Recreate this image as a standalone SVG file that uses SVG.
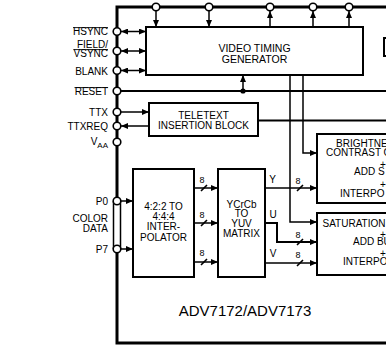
<svg xmlns="http://www.w3.org/2000/svg" width="386" height="351" viewBox="0 0 386 351">
<style>
text{font-family:"Liberation Sans",Arial,Helvetica,sans-serif;font-size:10px;fill:#000}
.box{fill:#fff;stroke:#000;stroke-width:2}
.chip{fill:none;stroke:#000;stroke-width:3}
.ln{fill:none;stroke:#000;stroke-width:1.5}
.bus{fill:none;stroke:#000;stroke-width:2}
.pin{fill:#fff;stroke:#000;stroke-width:1.6}
.sl{stroke:#000;stroke-width:1.6}
.m{text-anchor:middle}
.e{text-anchor:end}
.s8{font-size:9px}
</style>
<defs>
<marker id="ah" markerUnits="userSpaceOnUse" markerWidth="7" markerHeight="6" refX="7" refY="3" orient="auto-start-reverse">
<path d="M0,0 L7,3 L0,6 z" fill="#000"/>
</marker>
</defs>
<rect width="386" height="351" fill="#fff"/>
<g id="chip">
<path class="chip" d="M386,7 H117 V201 M117,249 V343 H386"/>
<path class="ln" d="M113.5,201 V249 M120.5,201 V249"/>
<text x="245" y="316" class="m" style="font-size:15px">ADV7172/ADV7173</text>
</g>
<g id="connectors">
<line class="ln" x1="156" y1="11" x2="156" y2="27" marker-end="url(#ah)"/>
<line class="ln" x1="209" y1="11" x2="209" y2="27" marker-end="url(#ah)"/>
<line class="ln" x1="270" y1="27" x2="270" y2="11" marker-end="url(#ah)"/>
<line class="ln" x1="313" y1="27" x2="313" y2="11" marker-end="url(#ah)"/>
<line class="ln" x1="349" y1="27" x2="349" y2="11" marker-end="url(#ah)"/>
<line class="ln" x1="121" y1="31.5" x2="146" y2="31.5" marker-start="url(#ah)" marker-end="url(#ah)"/>
<line class="ln" x1="121" y1="51" x2="146" y2="51" marker-start="url(#ah)" marker-end="url(#ah)"/>
<line class="ln" x1="121" y1="70.5" x2="146" y2="70.5" marker-start="url(#ah)" marker-end="url(#ah)"/>
<line class="bus" x1="121" y1="91" x2="386" y2="91"/>
<circle cx="243" cy="91" r="2.6" fill="#000"/>
<line class="ln" x1="243" y1="91" x2="243" y2="75" marker-end="url(#ah)"/>
<line class="ln" x1="121" y1="112" x2="149" y2="112" marker-end="url(#ah)"/>
<line class="ln" x1="149" y1="126" x2="121" y2="126" marker-end="url(#ah)"/>
<line class="bus" x1="258" y1="120.5" x2="386" y2="120.5"/>
<path class="ln" d="M303,75 V153 H317" marker-end="url(#ah)"/>
<path class="ln" d="M290,75 V222 H317" marker-end="url(#ah)"/>
<line class="ln" x1="121" y1="201" x2="133" y2="201" marker-end="url(#ah)"/>
<line class="ln" x1="121" y1="249" x2="133" y2="249" marker-end="url(#ah)"/>
<line class="ln" x1="194" y1="188" x2="218" y2="188" marker-end="url(#ah)"/>
<line class="ln" x1="194" y1="223" x2="218" y2="223" marker-end="url(#ah)"/>
<line class="ln" x1="194" y1="262" x2="218" y2="262" marker-end="url(#ah)"/>
<line class="ln" x1="265" y1="188" x2="317" y2="188" marker-end="url(#ah)"/>
<path class="bus" d="M265,223 H277 V242 H317" marker-end="url(#ah)"/>
<line class="ln" x1="265" y1="263" x2="317" y2="263" marker-end="url(#ah)"/>
<path class="sl" d="M201,191 L207,185 M201,226 L207,220 M201,265 L207,259 M297,191 L303,185 M297,245 L303,239 M297,266 L303,260"/>
<text x="202" y="182.5" class="m s8">8</text>
<text x="202" y="217.5" class="m s8">8</text>
<text x="202" y="256" class="m s8">8</text>
<text x="298" y="183.5" class="m s8">8</text>
<text x="298" y="238" class="m s8">8</text>
<text x="298" y="257.5" class="m s8">8</text>
<text x="272.5" y="182.5" class="m">Y</text>
<text x="273" y="217.5" class="m">U</text>
<text x="273" y="257" class="m">V</text>
</g>
<g id="pins-top">
<circle class="pin" cx="156" cy="7" r="3.8"/>
<circle class="pin" cx="209" cy="7" r="3.8"/>
<circle class="pin" cx="270" cy="7" r="3.8"/>
<circle class="pin" cx="313" cy="7" r="3.8"/>
<circle class="pin" cx="349" cy="7" r="3.8"/>
</g>
<g id="pin-hsync">
<circle class="pin" cx="117" cy="31.5" r="3.8"/>
<text x="108" y="35" class="e">HSYNC</text>
<line x1="73" y1="27.6" x2="108" y2="27.6" stroke="#000" stroke-width="0.9"/>
</g>
<g id="pin-vsync">
<circle class="pin" cx="117" cy="51" r="3.8"/>
<text x="108" y="48" class="e">FIELD/</text>
<text x="108" y="57" class="e">VSYNC</text>
<line x1="73.5" y1="49.6" x2="108" y2="49.6" stroke="#000" stroke-width="0.9"/>
</g>
<g id="pin-blank">
<circle class="pin" cx="117" cy="70.5" r="3.8"/>
<text x="108" y="75" class="e">BLANK</text>
</g>
<g id="pin-reset">
<circle class="pin" cx="117" cy="91" r="3.8"/>
<text x="108" y="95" class="e">RESET</text>
<line x1="74.5" y1="87.6" x2="108" y2="87.6" stroke="#000" stroke-width="0.9"/>
</g>
<g id="pin-ttx">
<circle class="pin" cx="117" cy="112" r="3.8"/>
<text x="108" y="116" class="e">TTX</text>
</g>
<g id="pin-ttxreq">
<circle class="pin" cx="117" cy="126" r="3.8"/>
<text x="108" y="130" class="e">TTXREQ</text>
</g>
<g id="pin-vaa">
<circle class="pin" cx="117" cy="142" r="3.8"/>
<text x="108" y="145" class="e">V<tspan dy="3" style="font-size:8px">AA</tspan></text>
</g>
<g id="pin-p0">
<circle class="pin" cx="117" cy="201" r="3.8"/>
<text x="108" y="204.5" class="e">P0</text>
</g>
<g id="label-color-data">
<text x="108" y="221.5" class="e">COLOR</text>
<text x="108" y="231.5" class="e">DATA</text>
</g>
<g id="pin-p7">
<circle class="pin" cx="117" cy="249" r="3.8"/>
<text x="108" y="252.5" class="e">P7</text>
</g>
<g id="vtg">
<rect class="box" x="146" y="27" width="217" height="48"/>
<text x="254.5" y="51.5" class="m" style="font-size:10.5px">VIDEO TIMING</text>
<text x="254.5" y="62.5" class="m" style="font-size:10.5px">GENERATOR</text>
</g>
<g id="right-box">
<rect class="box" x="384" y="38" width="20" height="18"/>
</g>
<g id="teletext">
<rect class="box" x="149" y="103" width="109" height="33"/>
<text x="203.5" y="119.3" class="m">TELETEXT</text>
<text x="203.5" y="129.3" class="m">INSERTION BLOCK</text>
</g>
<g id="interpolator">
<rect class="box" x="133" y="169" width="61" height="108"/>
<text x="163.5" y="210" class="m">4:2:2 TO</text>
<text x="163.5" y="219.5" class="m">4:4:4</text>
<text x="163.5" y="229.5" class="m">INTER-</text>
<text x="163.5" y="240.5" class="m">POLATOR</text>
</g>
<g id="yuv-matrix">
<rect class="box" x="218" y="169" width="47" height="108"/>
<text x="241.5" y="208.3" class="m">YCrCb</text>
<text x="241.5" y="217.3" class="m">TO</text>
<text x="241.5" y="226.7" class="m">YUV</text>
<text x="241.5" y="237.3" class="m">MATRIX</text>
</g>
<g id="brightness">
<rect class="box" x="317" y="134" width="130" height="69"/>
<text x="336" y="147">BRIGHTNE</text>
<text x="326" y="156.3">CONTRAST C</text>
<text x="380" y="168.4">+</text>
<text x="354" y="175.3">ADD S</text>
<text x="380" y="188.4">+</text>
<text x="340" y="197">INTERPO</text>
</g>
<g id="saturation">
<rect class="box" x="317" y="213" width="130" height="62"/>
<text x="322.5" y="227">SATURATION</text>
<text x="380" y="238.4">+</text>
<text x="353" y="245.3">ADD BU</text>
<text x="380" y="257.4">+</text>
<text x="343" y="265.3">INTERPO</text>
</g>
</svg>
